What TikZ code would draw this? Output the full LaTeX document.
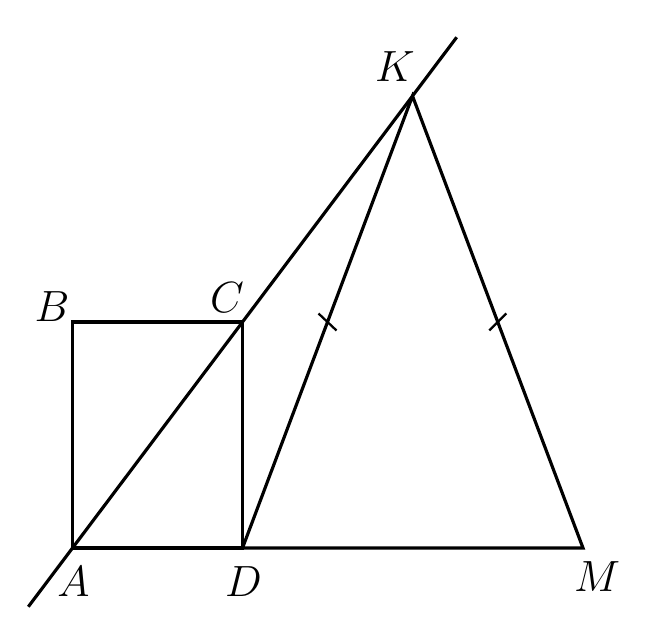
\documentclass[tikz,border=0pt]{standalone}
\usepackage{tikz}
\tikzset{
    segment/.style={draw=black,line width=1.8pt},
    tickmark/.style={draw=black,line width=1.3pt},
    vertex/.style={inner sep=0pt,font=\fontsize{23}{28}\selectfont},
}
\usetikzlibrary{calc}

\begin{document}
\begin{tikzpicture}
\useasboundingbox (0,0) rectangle (13.2,12.32);
\coordinate (A) at (1.45,1.36);
\coordinate (D) at (4.85,1.36);
\coordinate (M) at (11.66,1.36);
\coordinate (B) at (1.45,5.88);
\coordinate (C) at (4.85,5.88);
\coordinate (K) at ($(A)!2!(C)$);
\coordinate (L1) at ($(A)!-0.26!(C)$);
\coordinate (L2) at ($(A)!2.26!(C)$);
\coordinate (mKD) at ($(K)!0.5!(D)$);
\coordinate (mKM) at ($(K)!0.5!(M)$);
\draw[segment] (A) -- (B) -- (C) -- (D) -- cycle;
\draw[segment] (D) -- (K) -- (M) -- (D);
\draw[segment] (L1) -- (L2);
\draw[tickmark] ($(mKD)+(-0.18,0.17)$) -- ($(mKD)+(0.18,-0.17)$);
\draw[tickmark] ($(mKM)+(-0.17,-0.17)$) -- ($(mKM)+(0.17,0.17)$);
\node[vertex] (lA) at ($(A)+(0.02,-0.68)$) {$A$};
\node[vertex] (lB) at ($(B)+(-0.41,0.30)$) {$B$};
\node[vertex] (lC) at ($(C)+(-0.31,0.48)$) {$C$};
\node[vertex] (lD) at ($(D)+(0.02,-0.68)$) {$D$};
\node[vertex] (lK) at ($(K)+(-0.35,0.58)$) {$K$};
\node[vertex] (lM) at ($(M)+(0.28,-0.58)$) {$M$};
\end{tikzpicture}
\end{document}
